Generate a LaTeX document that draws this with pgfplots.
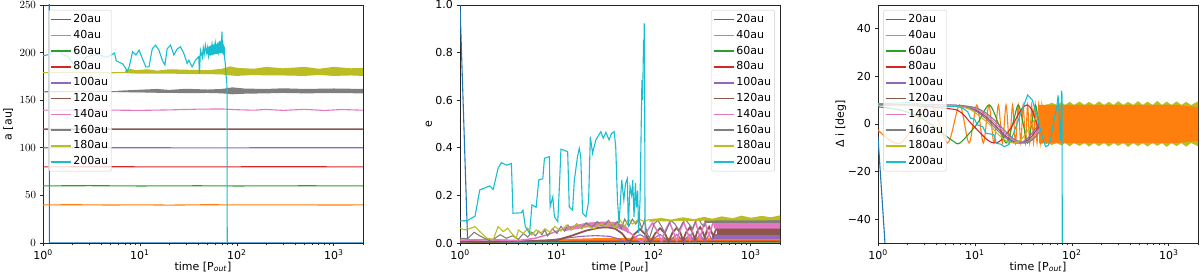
\documentclass[border=0pt]{standalone}
\usepackage{fontspec}
\setmainfont{DejaVu Sans}
\usepackage{pgfplots}
\pgfplotsset{compat=1.18}
\definecolor{C0}{HTML}{1F77B4}
\definecolor{C1}{HTML}{FF7F0E}
\definecolor{C2}{HTML}{2CA02C}
\definecolor{C3}{HTML}{D62728}
\definecolor{C4}{HTML}{9467BD}
\definecolor{C5}{HTML}{8C564B}
\definecolor{C6}{HTML}{E377C2}
\definecolor{C7}{HTML}{7F7F7F}
\definecolor{C8}{HTML}{BCBD22}
\definecolor{C9}{HTML}{17BECF}
\newcommand{\fs}{\fontsize{11}{13}\selectfont}
\pgfplotsset{
  legend image code/.code={\draw[#1, line width=1.5pt] (0pt,0pt) -- (20pt,0pt);},
  every axis/.append style={
    scale only axis, width=320pt, height=238pt,
    axis line style={line width=0.7pt, black!85},
    tick align=outside, xtick pos=bottom, ytick pos=left,
    major tick length=3.5pt, minor tick length=2pt,
    tick style={black!85, line width=0.7pt},
    tick label style={font=\fs},
    label style={font=\fs},
    legend cell align=left,
    legend style={font=\fs, draw=black!20, rounded corners=2pt, fill=white, fill opacity=0.8, text opacity=1, inner sep=1.5pt,
      nodes={inner ysep=2.5pt, text height=8.4pt, text depth=2.4pt},
      /tikz/every even column/.append style={column sep=8pt}},
  },
  every axis plot/.append style={line width=1.1pt},
}
\begin{document}
\begin{tikzpicture}
\useasboundingbox (0pt,0pt) rectangle (1200pt,275pt);
%%%%%%%%%%%%%%%%%%%%%%%%%%%% PANEL 1 : a
\begin{axis}[at={(43pt,32pt)}, anchor=south west,
  xmode=log, xmin=1, xmax=2000, no markers,
  xtick={1,10,100,1000},
  xticklabels={10\textsuperscript{0},10\textsuperscript{1},10\textsuperscript{2},10\textsuperscript{3}},
  minor xtick={2,3,4,5,6,7,8,9,20,30,40,50,60,70,80,90,200,300,400,500,600,700,800,900,2000},
  xlabel={time [P\textsubscript{\textit{out}}]},
  xlabel style={at={(axis description cs:0.5,-0.1)}, anchor=center},
  ymin=0, ymax=250, ytick={0,50,100,150,200,250},
  ylabel={a [au]}, ylabel style={at={(axis description cs:-0.109,0.5)}, anchor=center},
  legend style={at={(0.016,0.979)}, anchor=north west}]
\addplot[C0] coordinates {(1.15,600)(1.165,0)(2000,0)};
\addplot[C1] coordinates {(1,40)(2,40.2)(5,39.9)(10,40.1)(20,39.8)(50,40.2)(100,40)(300,40.1)(1000,39.9)(2000,40)};
\addplot[C2] coordinates {(1,60)(3,60.2)(10,59.9)(40,60.1)(100,59.9)(500,60.1)(2000,60)};
\addplot[C3] coordinates {(1,80)(5,80.1)(30,79.9)(200,80.1)(2000,80)};
\addplot[C4] coordinates {(1,100)(8,100.1)(50,99.9)(400,100.1)(2000,100)};
\addplot[C5, line width=1.5pt] coordinates {(1,119.5)(10,119.6)(100,119.5)(2000,119.5)};
\addplot[C6] coordinates {(1,139.5)(3,139.8)(10,139.3)(20,139.8)(40,140.6)(70,140.8)(100,140)(150,139.5)(200,140.3)(300,139.3)(500,140.4)(800,139.2)(1200,140.2)(2000,139.5)};
\addplot[C7] coordinates {(1,158.8)(3,159.2)(6,159)(2000,159.5)};
\addplot[C7, draw=none, fill=C7, forget plot] coordinates {(6,160)(10,161)(15,161.8)(20,160.8)(30,162)(50,161.2)(70,161.8)(90,163.5)(120,162.2)(200,161.8)(300,162.5)(500,161.8)(1000,162.3)(2000,161.8)
 (2000,157.2)(1000,157.5)(500,157.2)(300,157.6)(200,157.2)(120,156.8)(90,156.2)(70,157.2)(50,157.6)(30,157.3)(20,157.8)(15,157.8)(10,158.2)(6,158.5)};
\addplot[C8] coordinates {(1,179)(3,179.3)(5,178.8)(7,179)(2000,179.5)};
\addplot[C8, draw=none, fill=C8, forget plot] coordinates {(7,181)(8,183)(9,181.5)(12,182.5)(15,181)(20,182.5)(30,182)(50,181.5)(70,183)(85,185.5)(100,184)(150,183)(200,185)(300,183.5)(500,185)(700,183)(1000,185)(1500,183.5)(2000,184)
 (2000,175.5)(1500,176)(1000,175.5)(700,176.5)(500,175.5)(300,176)(200,176)(150,176.5)(100,175.5)(85,176)(70,177)(50,177.5)(30,177.5)(20,178)(15,178)(12,178)(9,178)(7,178.5)};
\addplot[C9] coordinates {(1,196.5)(1.15,198)(1.3,201)(1.45,203)(1.6,198)(1.8,196)(2.0,190)(2.2,182.7)(2.4,186)(2.8,195.5)(3.2,197)(3.85,198)(4.4,195)(4.87,196.6)(5.47,199.5)(5.7,191.4)(6.67,188)(7.2,182.7)(7.4,180)(7.8,186)(8.4,201)(9.1,197.5)(9.8,202.6)(10.6,193.8)(11.5,185)(12.4,185)(13.4,204)(14.5,207.8)(15.7,202.6)(17,192)(18.1,187)(19.1,204)(20.7,207.8)(22.4,197.5)(24.3,204)(26.2,206)(28.4,199)(30.7,188.6)(32,192)(34.5,185)(37.4,192)(40.4,195.7)(41.1,178)(42.1,202.6)(44,195)(45,205)(46,198)(47.3,207.8)(48.5,200)(50,206)(51,197)(52,204)(53.5,199)(55.4,209)(56.5,201)(58,207)(59,200)(60,210)(61.5,203)(63,208)(64.5,201)(66,212)(67,203)(68,209)(69,205)(70.2,222)(71,204)(72,208)(73,202.6)(75.9,188.6)(77.5,175)(78.9,167.7)(79.3,155)(79.5,0)};
\addplot[C9, draw=none, fill=C9, forget plot] coordinates {(49,205)(55,208)(60,208)(66,211)(70,210)(75,206)(75,196)(70,200)(65,199)(58,198)(52,197)(49,199)};
\legend{20au,40au,60au,80au,100au,120au,140au,160au,180au,200au}
\end{axis}
%%%%%%%%%%%%%%%%%%%%%%%%%%%% PANEL 2 : e
\begin{axis}[at={(460pt,32pt)}, anchor=south west,
  xmode=log, xmin=1, xmax=2000, no markers,
  xtick={1,10,100,1000},
  xticklabels={10\textsuperscript{0},10\textsuperscript{1},10\textsuperscript{2},10\textsuperscript{3}},
  minor xtick={2,3,4,5,6,7,8,9,20,30,40,50,60,70,80,90,200,300,400,500,600,700,800,900,2000},
  xlabel={time [P\textsubscript{\textit{out}}]},
  xlabel style={at={(axis description cs:0.5,-0.1)}, anchor=center},
  ymin=0, ymax=1, ytick={0,0.2,0.4,0.6,0.8,1}, yticklabels={0.0,0.2,0.4,0.6,0.8,1.0},
  ylabel={e}, ylabel style={at={(axis description cs:-0.097,0.5)}, anchor=center},
  legend style={at={(0.984,0.979)}, anchor=north east}]
\addplot[C0] coordinates {(1,1.0)(1.2,0.0)(2000,0.0)};
\addplot[C1] coordinates {(1,0.008)(1.5,0.012)(2,0.018)(2.5,0.01)(3,0.006)(4,0.01)(5,0.014)(6,0.008)(8,0.012)(10,0.01)(2000,0.012)};
\addplot[C1, draw=none, fill=C1, forget plot] coordinates {(8,0.015)(15,0.018)(30,0.021)(100,0.022)(2000,0.022)(2000,0.003)(100,0.003)(30,0.004)(15,0.006)(8,0.008)};
\addplot[C2] coordinates {(1,0.004)(10,0.005)(100,0.006)(2000,0.005)};
\addplot[C3] coordinates {(1,0.006)(10,0.007)(100,0.008)(2000,0.008)};
\addplot[C4] coordinates {(1,0.012)(2,0.014)(4,0.01)(8,0.012)(12,0.02)(18,0.028)(25,0.031)(35,0.028)(45,0.015)(52,0.003)(60,0.02)(72,0.035)(85,0.02)(92,0.003)(100,0.02)(116,0.036)(130,0.02)(142,0.003)(155,0.02)(172,0.036)(188,0.02)(200,0.003)(215,0.02)(235,0.036)(250,0.02)(265,0.005)(280,0.02)(300,0.036)(318,0.02)(335,0.006)(350,0.02)(372,0.036)(390,0.02)(410,0.01)};
\addplot[C4, draw=none, fill=C4, forget plot] coordinates {(400,0.036)(2000,0.036)(2000,0.018)(400,0.018)};
\addplot[C5, line width=1.8pt] coordinates {(1,0.005)(3,0.006)(6,0.008)(10,0.012)(14,0.03)(20,0.052)(27,0.064)(33,0.066)(40,0.06)(47,0.04)(53,0.012)(57,0.004)(62,0.035)(72,0.058)(82,0.035)(92,0.004)(103,0.04)(116,0.062)(130,0.04)(142,0.006)(155,0.042)(172,0.064)(188,0.042)(200,0.01)(215,0.045)(235,0.066)(250,0.045)(265,0.015)(280,0.048)(300,0.067)(318,0.048)(335,0.022)(350,0.05)(372,0.068)(390,0.05)(410,0.028)(430,0.05)(460,0.068)(490,0.04)};
\addplot[C5, draw=none, fill=C5, forget plot] coordinates {(450,0.068)(2000,0.068)(2000,0.033)(450,0.033)};
\addplot[C6, line width=1.5pt] coordinates {(1,0.012)(2,0.014)(4,0.01)(6,0.02)(8,0.035)(10,0.05)(15,0.07)(22,0.082)(30,0.086)(40,0.08)(50,0.06)(60,0.035)(70,0.012)(76,0.004)(85,0.05)(97,0.085)(108,0.05)(120,0.005)(130,0.05)(145,0.087)(158,0.05)(172,0.008)(185,0.05)(203,0.088)(220,0.05)(235,0.012)(250,0.055)(268,0.09)(285,0.055)(300,0.02)(318,0.06)(335,0.09)(352,0.06)(370,0.03)(390,0.06)(410,0.09)(430,0.06)};
\addplot[C6, draw=none, fill=C6, forget plot] coordinates {(12,0.065)(20,0.085)(30,0.09)(40,0.088)(50,0.075)(55,0.06)(55,0.04)(50,0.05)(40,0.065)(30,0.07)(20,0.065)(12,0.05)};
\addplot[C6, draw=none, fill=C6, forget plot] coordinates {(420,0.094)(2000,0.095)(2000,0.06)(420,0.06)};
\addplot[C7] coordinates {(1,0.02)(1.2,0.018)(1.4,0.045)(1.6,0.03)(2,0.01)(2.3,0.02)(2.6,0.035)(3,0.02)(3.5,0.03)(4,0.015)(4.5,0.04)(5,0.025)(5.5,0.045)(6,0.03)(6.5,0.05)(7,0.035)(7.5,0.055)(8,0.03)(9,0.06)(10,0.04)(11,0.07)(12,0.05)(13,0.075)(14,0.055)(16,0.08)(18,0.06)(20,0.085)(23,0.065)(26,0.09)(30,0.07)(34,0.095)(38,0.07)(42,0.09)(46,0.06)(50,0.1)(55,0.07)(60,0.1)(65,0.08)(70,0.1)(75,0.06)(80,0.095)(85,0.04)(90,0.02)(95,0.05)(100,0.08)(110,0.095)(120,0.07)(130,0.04)(140,0.07)(150,0.095)(165,0.08)(180,0.05)(195,0.08)(210,0.1)(230,0.08)(250,0.06)(270,0.09)(290,0.1)(310,0.08)(330,0.07)(350,0.095)};
\addplot[C7, draw=none, fill=C7, forget plot] coordinates {(340,0.1)(2000,0.1)(2000,0.086)(340,0.086)};
\addplot[C8] coordinates {(1,0.062)(1.12,0.055)(1.25,0.06)(1.43,0.069)(1.6,0.048)(1.9,0.02)(2.2,0.013)(2.47,0.069)(2.8,0.048)(3.1,0.062)(3.4,0.041)(3.8,0.02)(4.0,0.055)(4.5,0.04)(5,0.062)(5.5,0.034)(6.1,0.055)(6.8,0.04)(7.5,0.06)(8.5,0.045)(9.5,0.07)(11,0.05)(12.5,0.075)(14,0.055)(16,0.08)(18,0.06)(20,0.075)(24,0.06)(28,0.08)(32,0.07)(36,0.085)(40,0.065)(45,0.095)(50,0.07)(55,0.1)(60,0.08)(70,0.1)(80,0.09)(90,0.1)};
\addplot[C8, draw=none, fill=C8, forget plot] coordinates {(90,0.1)(120,0.105)(150,0.098)(200,0.108)(260,0.1)(330,0.11)(400,0.102)(500,0.112)(650,0.104)(800,0.115)(1000,0.106)(1300,0.114)(1600,0.108)(2000,0.116)(2000,0.096)(1000,0.095)(500,0.095)(200,0.092)(90,0.09)};
\addplot[C9] coordinates {(1,0.092)(1.2,0.095)(1.43,0.113)(1.6,0.223)(2.03,0.24)(2.2,0.225)(2.47,0.314)(2.67,0.338)(3.01,0.327)(3.39,0.334)(3.52,0.125)(4.29,0.127)(4.46,0.138)(4.72,0.069)(5.22,0.04)(5.52,0.16)(6.1,0.15)(6.5,0.265)(7.15,0.27)(7.43,0.356)(8.37,0.363)(8.5,0.152)(9.06,0.194)(9.42,0.11)(10.2,0.09)(10.6,0.237)(11,0.394)(12.9,0.384)(13.4,0.152)(14.5,0.138)(15.1,0.262)(16.3,0.363)(17,0.398)(17.6,0.363)(18.4,0.125)(19.9,0.11)(21.2,0.173)(22.1,0.447)(23.3,0.377)(25.2,0.433)(28.4,0.468)(30,0.44)(32,0.465)(34.5,0.433)(36.5,0.46)(38.9,0.468)(40.4,0.405)(42.1,0.18)(43.7,0.082)(46.6,0.265)(49,0.18)(51,0.25)(53.2,0.27)(54.5,0.069)(56.7,0.237)(59,0.2)(60.5,0.265)(62.4,0.11)(64.5,0.251)(66,0.15)(68,0.22)(69.6,0.04)(72,0.18)(75.3,0.685)(76.5,0.6)(78.3,0.853)(79,0.825)(79.6,0.923)(80.2,0.74)(81,0.1)(82,0.0)};
\legend{20au,40au,60au,80au,100au,120au,140au,160au,180au,200au}
\end{axis}
%%%%%%%%%%%%%%%%%%%%%%%%%%%% PANEL 3 : delta i
\begin{axis}[at={(878pt,32pt)}, anchor=south west,
  xmode=log, xmin=1, xmax=2000, no markers,
  xtick={1,10,100,1000},
  xticklabels={10\textsuperscript{0},10\textsuperscript{1},10\textsuperscript{2},10\textsuperscript{3}},
  minor xtick={2,3,4,5,6,7,8,9,20,30,40,50,60,70,80,90,200,300,400,500,600,700,800,900,2000},
  xlabel={time [P\textsubscript{\textit{out}}]},
  xlabel style={at={(axis description cs:0.5,-0.1)}, anchor=center},
  ymin=-50, ymax=50, ytick={-40,-20,0,20,40}, yticklabels={−40,−20,0,20,40},
  ylabel={Δ i [deg]}, ylabel style={at={(axis description cs:-0.116,0.5)}, anchor=center},
  legend style={at={(0.016,0.979)}, anchor=north west}]
\addplot[C0] coordinates {(1,-5.5)(1.18,-50)(1.25,-70)};
\addplot[C1, smooth] coordinates {(1,-2.5)(1.7,-8)(3.45,8)(5.2,-8)(6.95,8)(8.7,-8)(10.45,8)(12.2,-8)(13.95,8)(15.7,-8)(17.45,8)(19.2,-8)(20.95,8)(22.7,-8)(24.45,8)(26.2,-8)(27.95,8)(29.7,-8)(31.45,8)(33.2,-8)(34.95,8)(36.7,-8)(38.45,8)(40.2,-8)(41.95,8)(43.7,-8)(45.45,8)(47.2,-8)(48.95,8)(50.7,-8)};
\addplot[C2, smooth] coordinates {(1,7.2)(1.5,6.3)(2,5)(3,1.8)(3.5,0)(4.5,-3.5)(5,-5)(6,-7.2)(7,-8)(10.5,0)(14,8)(17.5,0)(21,-8)(24.5,0)(28,8)(31.5,0)(35,-8)(38.5,0)(42,8)(45.5,0)(49,-8)(52.5,0)(56,8)};
\addplot[C3, smooth] coordinates {(1,8)(2,7.8)(3,7.4)(4,7)(5,6.6)(6.6,5.8)(7.8,3.5)(9,0.5)(10.6,-2.5)(12.5,-5.5)(14.5,-7.6)(17,-7.8)(20,-5.5)(24,-1)(28,4)(31,6.8)(34.5,8)(38,6.5)(42,2)(46,-3)(50,-7)(55,-8)(60,-5)(66,0)};
\addplot[C4, smooth] coordinates {(1,8)(5,7.9)(7,7.5)(9,6.5)(10.6,5)(13,2.2)(16,-1.5)(20,-5.3)(24,-7.5)(27,-8)(31,-7.6)(36,-5.5)(44,-1)(55,4)(70,7.8)};
\addplot[C4, draw=none, fill=C4, forget plot] coordinates {(1100,7.8)(2000,7.8)(2000,-7.8)(1100,-7.8)};
\addplot[C5, smooth] coordinates {(1,8)(5,7.9)(7,7.6)(9,6.8)(10.6,5.5)(13,3)(16,-0.5)(20,-4.5)(24,-7)(29,-8)(33,-7.5)(38,-5.5)(46,-1)(57,4)(72,7.8)};
\addplot[C6, smooth] coordinates {(1,8)(5,7.9)(7,7.7)(9,7)(10.6,6)(13,3.8)(16,0.5)(20,-3.5)(25,-6.8)(30,-8)(35,-7.4)(40,-5.5)(48,-1)(60,4)(75,7.8)};
\addplot[C7, smooth] coordinates {(1,8)(5,7.9)(7,7.8)(9,7.3)(10.6,6.6)(13,4.6)(16,1.5)(20,-2.5)(25,-6.2)(32,-8)(37,-7.3)(43,-5)(50,-1)(62,4)(78,7.8)};
\addplot[C8, smooth] coordinates {(1,7.8)(5,7.7)(7,7.3)(9,6)(11,3.5)(14,0)(17,-4)(21,-7)(25,-8)(30,-6.5)(36,-2)(45,4)(55,8)(65,5)};
\addplot[C8, draw=none, fill=C8, forget plot] coordinates {(55,8)(62,8.9)(70,8)(78,9.2)(85,8)(95,9.3)(105,8)(120,9.4)(135,8)(150,9.3)(170,8)(190,9.5)(215,8)(240,9.3)(270,8)(300,9.6)(340,8)(380,9.3)(430,8)(480,9.6)(540,8)(600,9.4)(680,8)(760,9.7)(850,8)(950,9.4)(1070,8)(1200,9.5)(1350,8)(1500,9.3)(1700,8)(2000,9.5)
 (2000,-9.3)(1700,-8)(1500,-9.5)(1350,-8)(1200,-9.3)(1070,-8)(950,-9.6)(850,-8)(760,-9.2)(680,-8)(600,-9.5)(540,-8)(480,-9.3)(430,-8)(380,-9.6)(340,-8)(300,-9.2)(270,-8)(240,-9.5)(215,-8)(190,-9.3)(170,-8)(150,-9.5)(135,-8)(120,-9.2)(105,-8)(95,-9.4)(85,-8)(78,-9)(70,-8)(62,-8.8)(55,-8)};
\addplot[C1, draw=none, fill=C1, forget plot] coordinates {(46,8)(1200,8)(1600,7.5)(2000,7.1)(2000,-7.1)(1600,-7.5)(1200,-8)(46,-8)};
\addplot[C9] coordinates {(1,8.5)(2,9)(3,8.2)(4,7.8)(5,7.3)(6.2,7.5)(7.2,7)(8.4,5.2)(9,2.5)(9.9,2)(10.6,-0.4)(12,-1.1)(13,-3.9)(14.5,-4.2)(15.7,-4.6)(16.7,-8.1)(18.5,-8.5)(20,-9.5)(22,-8.8)(24.3,-5.3)(27.3,0.3)(30,5)(32,8)(35,12.2)(39,10.1)(44,3)(49.5,-5.3)(53.5,-9.5)(57,-9)(60,-7)(65,1)(70,7.3)(72,12)(73.5,7)(75,-2.7)(76.5,-7)(77.5,4)(78.2,14)(78.8,1)(79.2,13)(79.4,-16)(79.6,-60)};
\legend{20au,40au,60au,80au,100au,120au,140au,160au,180au,200au}
\end{axis}
\end{tikzpicture}
\end{document}
